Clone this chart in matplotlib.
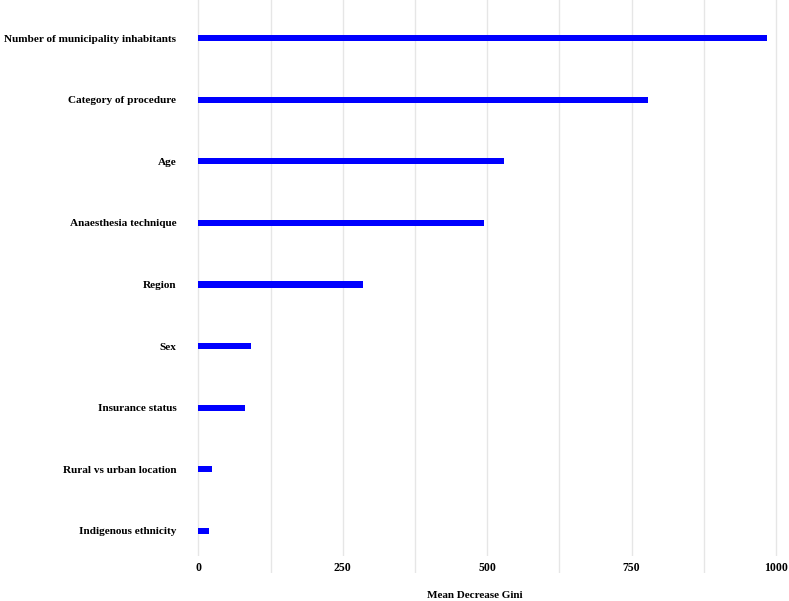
import matplotlib
matplotlib.use("Agg")
import matplotlib.pyplot as plt
from matplotlib.ticker import MultipleLocator

categories = ["Indigenous ethnicity", "Rural vs urban location", "Insurance status",
              "Sex", "Region", "Anaesthesia technique", "Age",
              "Category of procedure", "Number of municipality inhabitants"]
values = [18, 23, 80, 91, 285, 495, 529, 779, 985]
xticks = [0, 250, 500, 750, 1000]

W, H = 789, 601
fig = plt.figure(figsize=(W / 100, H / 100), dpi=100)
scale = 0.5777
x0px = 198.3
xmin, xmax = -20, 1015
left = x0px + xmin * scale
width = (xmax - xmin) * scale
top_px, bot_px = 0, 573
ax = fig.add_axes([left / W, 1 - bot_px / H, width / W, (bot_px - top_px) / H])

font = "Liberation Serif"
ypos = list(range(len(categories)))
ax.barh(ypos, values, height=0.1, color="#0000FF", zorder=3)
ax.set_xlim(xmin, xmax)
sp = 61.6
ax.set_ylim(-(bot_px - 531) / sp, 8 + 38 / sp)

ax.set_xticks(xticks)
ax.set_xticklabels([str(t) for t in xticks])
ax.xaxis.set_minor_locator(MultipleLocator(125))
ax.set_yticks(ypos)
ax.set_yticklabels(categories)
for s in ax.spines.values():
    s.set_visible(False)
ax.tick_params(axis="both", which="both", length=0)
ax.tick_params(axis="x", pad=-8)
ax.tick_params(axis="y", pad=(left - 176.5) * 0.72)
ax.grid(axis="x", which="both", color="#E6E6E6", linewidth=1.0, zorder=0)
ax.grid(axis="y", visible=False)
ax.set_axisbelow(True)

for t in ax.get_xticklabels():
    t.set_fontfamily(font)
    t.set_fontweight("bold")
    t.set_fontsize(8.5)
    t.set_bbox(dict(facecolor="white", edgecolor="none", pad=4))
for t in ax.get_yticklabels():
    t.set_fontfamily(font)
    t.set_fontweight("bold")
    t.set_fontsize(8.1)

fig.text(475 / W, 1 - 595 / H, "Mean Decrease Gini", ha="center", va="center",
         fontfamily=font, fontweight="bold", fontsize=8)

fig.savefig("out.png", dpi=100)
